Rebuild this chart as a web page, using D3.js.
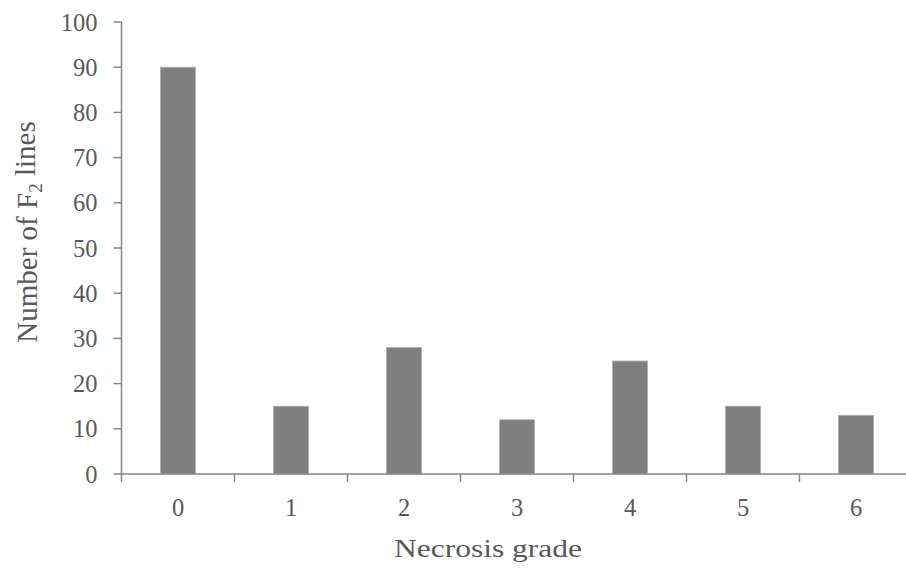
<!DOCTYPE html>
<html><head><meta charset="utf-8">
<script src="https://cdn.jsdelivr.net/npm/d3@7"></script>
<style>body{margin:0;background:#fff}svg{display:block}</style>
</head><body>
<svg id="c" width="906" height="574"></svg>
<script>
const categories = ["0","1","2","3","4","5","6"];
const values = [90, 15, 28, 12, 25, 15, 13];
const yTicks = [0,10,20,30,40,50,60,70,80,90,100];

(function(){
const svg = d3.select("#c");
const mLeft = 121.5, mRight = 912.5, mTop = 22, mBottom = 474;
const font = "'Liberation Serif','Times New Roman',serif";
const txt = "#595959", axisCol = "#868686";

const x = d3.scaleBand().domain(categories).range([mLeft, mRight]).paddingInner(0.69).paddingOuter(0.345);
const y = d3.scaleLinear().domain([0, 100]).range([mBottom, mTop]);

// bars
svg.append("g").selectAll("rect").data(values).join("rect")
  .attr("x", (d,i) => x(categories[i]))
  .attr("y", d => y(d))
  .attr("width", x.bandwidth())
  .attr("height", d => y(0) - y(d))
  .attr("fill", "#7f7f7f")
  .attr("stroke", "#b0b0b0").attr("stroke-width", 0.8);

// y axis
const gy = svg.append("g");
gy.append("line").attr("x1", mLeft).attr("x2", mLeft).attr("y1", y(100)).attr("y2", y(0))
  .attr("stroke", axisCol).attr("stroke-width", 1.5);
gy.selectAll("line.t").data(yTicks).join("line").attr("class","t")
  .attr("x1", mLeft - 8).attr("x2", mLeft).attr("y1", d => y(d)).attr("y2", d => y(d))
  .attr("stroke", axisCol).attr("stroke-width", 1.5);
gy.selectAll("text").data(yTicks).join("text")
  .attr("x", 97.5).attr("y", d => y(d) + 8.5)
  .attr("text-anchor", "end").attr("font-family", font).attr("font-size", 24.5).attr("fill", txt)
  .text(d => d);

// x axis
const step = x.step();
const boundaries = d3.range(categories.length + 1).map(i => mLeft + i * step);
const gx = svg.append("g");
gx.append("line").attr("x1", mLeft).attr("x2", mRight).attr("y1", mBottom).attr("y2", mBottom)
  .attr("stroke", axisCol).attr("stroke-width", 1.5);
gx.selectAll("line.t").data(boundaries).join("line").attr("class","t")
  .attr("x1", d => d).attr("x2", d => d).attr("y1", mBottom).attr("y2", mBottom + 8)
  .attr("stroke", axisCol).attr("stroke-width", 1.5);
gx.selectAll("text").data(categories).join("text")
  .attr("x", d => x(d) + x.bandwidth()/2).attr("y", 516)
  .attr("text-anchor", "middle").attr("font-family", font).attr("font-size", 24.5).attr("fill", txt)
  .text(d => d);

// axis titles
svg.append("text").attr("transform", "translate(488,557) scale(1,0.82)")
  .attr("text-anchor", "middle").attr("font-family", font).attr("font-size", 31.5).attr("fill", txt)
  .text("Necrosis grade");

const yl = svg.append("text").attr("transform", "translate(37,232) rotate(-90)")
  .attr("text-anchor", "middle").attr("font-family", font).attr("font-size", 29).attr("fill", txt);
yl.append("tspan").text("Number of F");
yl.append("tspan").attr("font-size", 19).attr("dy", "0.25em").text("2");
yl.append("tspan").attr("dy", "-0.25em").text(" lines");
})();
</script>
</body></html>
